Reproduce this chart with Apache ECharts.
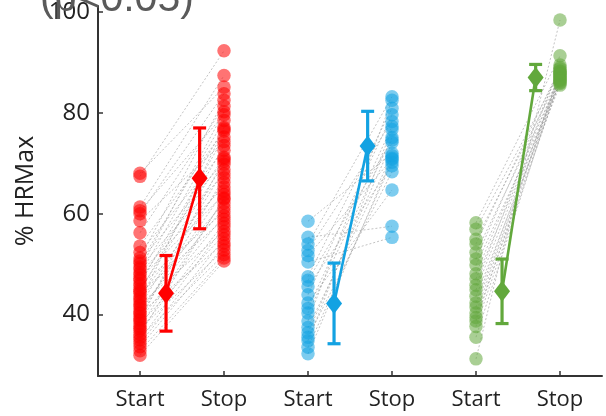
<!DOCTYPE html>
<html>
<head>
<meta charset="utf-8">
<script src="https://cdn.jsdelivr.net/npm/echarts@6/dist/echarts.min.js"></script>
<style>html,body{margin:0;padding:0;background:#fff}#c{width:606px;height:416px}</style>
</head>
<body>
<div id="c"></div>
<script>
// Tick labels
var xLabels = ['Start', 'Stop', 'Start', 'Stop', 'Start', 'Stop'];
var yTicks = [40, 60, 80, 100];
var groupColors = ['#ff0000', '#13a2e2', '#62a83c'];

// Individual subjects (paired by index)
var redStart = [68.0, 67.4, 61.3, 60.6, 60.0, 58.6, 56.2, 53.6, 52.3, 51.2, 50.6, 50.1, 49.4, 49.0, 48.3, 47.9, 47.2, 46.8, 46.1, 45.7, 45.0, 44.6, 44.2, 43.5, 43.1, 42.6, 42.0, 41.7, 41.1, 40.5, 40.2, 39.6, 39.1, 38.8, 38.2, 37.6, 37.2, 36.8, 36.1, 35.5, 35.0, 34.3, 33.6, 32.8, 31.9];
var redStop = [85.1, 92.3, 87.4, 79.6, 83.8, 74.3, 81.3, 76.4, 72.6, 82.5, 70.4, 78.5, 67.9, 80.2, 65.3, 77.1, 63.8, 71.2, 75.2, 60.4, 69.8, 73.5, 58.9, 66.2, 62.1, 76.8, 56.5, 68.7, 61.2, 64.5, 54.2, 67.1, 59.6, 70.9, 55.8, 62.9, 52.8, 58.1, 63.1, 51.9, 57.4, 55.0, 53.6, 51.2, 50.6];
var blueStart = [58.5, 55.3, 54.0, 52.7, 51.7, 50.4, 47.5, 46.8, 45.5, 43.9, 42.3, 41.2, 40.3, 38.7, 37.4, 36.4, 35.5, 34.8, 33.5, 32.2];
var blueStop = [72.0, 57.5, 83.2, 78.3, 70.8, 55.3, 80.9, 74.6, 69.5, 79.6, 64.7, 77.3, 75.1, 82.5, 71.5, 74.1, 68.3, 76.7, 70.2, 71.0];
var greenStart = [58.2, 56.9, 54.9, 54.0, 52.3, 51.0, 49.8, 48.1, 47.1, 45.8, 44.9, 43.6, 42.3, 41.5, 40.3, 39.4, 38.7, 37.6, 35.5, 31.2];
var greenStop = [91.3, 88.3, 87.2, 89.0, 86.5, 88.7, 85.8, 87.5, 86.0, 89.5, 87.0, 85.5, 88.0, 86.8, 87.8, 86.3, 88.2, 86.6, 87.6, 98.4];

// Group means and SDs
var meanStart = [44.2, 42.2, 44.6];
var meanStop = [67.0, 73.4, 87.0];
var sdStart = [7.5, 8.0, 6.4];
var sdStop = [10.0, 6.9, 2.6];

var groups = [[redStart, redStop], [blueStart, blueStop], [greenStart, greenStop]];
var FONT = 'Open Sans';
var series = [];

// dashed pair lines
var pairData = [];
groups.forEach(function (g, gi) {
  var xs = gi * 2 + 1, xe = gi * 2 + 2;
  for (var i = 0; i < g[0].length; i++) pairData.push([xs, g[0][i], xe, g[1][i]]);
});
series.push({
  type: 'custom', z: 1, silent: true,
  encode: { x: [0, 2], y: [1, 3] },
  data: pairData,
  renderItem: function (params, api) {
    var p1 = api.coord([api.value(0), api.value(1)]);
    var p2 = api.coord([api.value(2), api.value(3)]);
    return { type: 'line', shape: { x1: p1[0], y1: p1[1], x2: p2[0], y2: p2[1] },
      style: { stroke: '#9a9a9a', lineWidth: 0.8, lineDash: [2, 2], opacity: 0.75 } };
  }
});

// individual points
groups.forEach(function (g, gi) {
  [0, 1].forEach(function (k) {
    var x = gi * 2 + 1 + k;
    series.push({
      type: 'scatter', z: 2, silent: true,
      symbolSize: 13.5,
      itemStyle: { color: groupColors[gi], opacity: 0.55 },
      data: g[k].map(function (v) { return [x, v]; })
    });
  });
});

// means line + diamonds
var offS = 0.31, offE = -0.29;
groups.forEach(function (g, gi) {
  var xs = gi * 2 + 1 + offS, xe = gi * 2 + 2 + offE;
  series.push({
    type: 'custom', z: 4, silent: true,
    encode: { x: 0, y: [1, 2] },
    data: [[xs, meanStart[gi] - sdStart[gi], meanStart[gi] + sdStart[gi]], [xe, meanStop[gi] - sdStop[gi], meanStop[gi] + sdStop[gi]]],
    renderItem: function (params, api) {
      var lo = api.coord([api.value(0), api.value(1)]);
      var hi = api.coord([api.value(0), api.value(2)]);
      var w = 6.5;
      var st = { stroke: groupColors[gi], lineWidth: 3.2 };
      return { type: 'group', children: [
        { type: 'line', shape: { x1: lo[0], y1: lo[1], x2: hi[0], y2: hi[1] }, style: st },
        { type: 'line', shape: { x1: lo[0] - w, y1: lo[1], x2: lo[0] + w, y2: lo[1] }, style: st },
        { type: 'line', shape: { x1: hi[0] - w, y1: hi[1], x2: hi[0] + w, y2: hi[1] }, style: st }
      ] };
    }
  });
  series.push({
    type: 'line', z: 5, silent: true,
    symbol: 'diamond', symbolSize: [16, 21],
    itemStyle: { color: groupColors[gi], opacity: 1 },
    lineStyle: { color: groupColors[gi], width: 2.6 },
    data: [[xs, meanStart[gi]], [xe, meanStop[gi]]]
  });
});

var chart = echarts.init(document.getElementById('c'));
chart.setOption({
  animation: false,
  backgroundColor: '#fff',
  grid: { left: 98, right: 4, top: 0, bottom: 40 },
  xAxis: {
    type: 'value', min: 0.5, max: 6.5,
    splitLine: { show: false },
    axisLine: { lineStyle: { color: '#333', width: 2 } },
    axisTick: { inside: true, length: 5, customValues: [1, 2, 3, 4, 5, 6], lineStyle: { color: '#333', width: 1.5 } },
    axisLabel: { customValues: [1, 2, 3, 4, 5, 6], formatter: function (v) { return xLabels[Math.round(v) - 1]; },
      color: '#222', fontSize: 22, fontFamily: FONT, margin: 13 }
  },
  yAxis: {
    type: 'value', min: 27.8, max: 101.2,
    name: '% HRMax', nameLocation: 'middle', nameGap: 57,
    nameTextStyle: { color: '#222', fontSize: 25, fontFamily: FONT },
    splitLine: { show: false },
    axisLine: { show: true, lineStyle: { color: '#333', width: 2 } },
    axisTick: { show: true, inside: true, length: 5, customValues: yTicks, lineStyle: { color: '#333', width: 1.5 } },
    axisLabel: { customValues: yTicks, color: '#222', fontSize: 24, fontFamily: FONT, margin: 8 }
  },
  graphic: [{
    type: 'text', left: 40, top: -21, z: 10,
    style: { text: '(p<0.05)', font: '41px "Liberation Sans", Arial, sans-serif', fill: '#5a5a5a' }
  }],
  series: series
});
</script>
</body>
</html>
